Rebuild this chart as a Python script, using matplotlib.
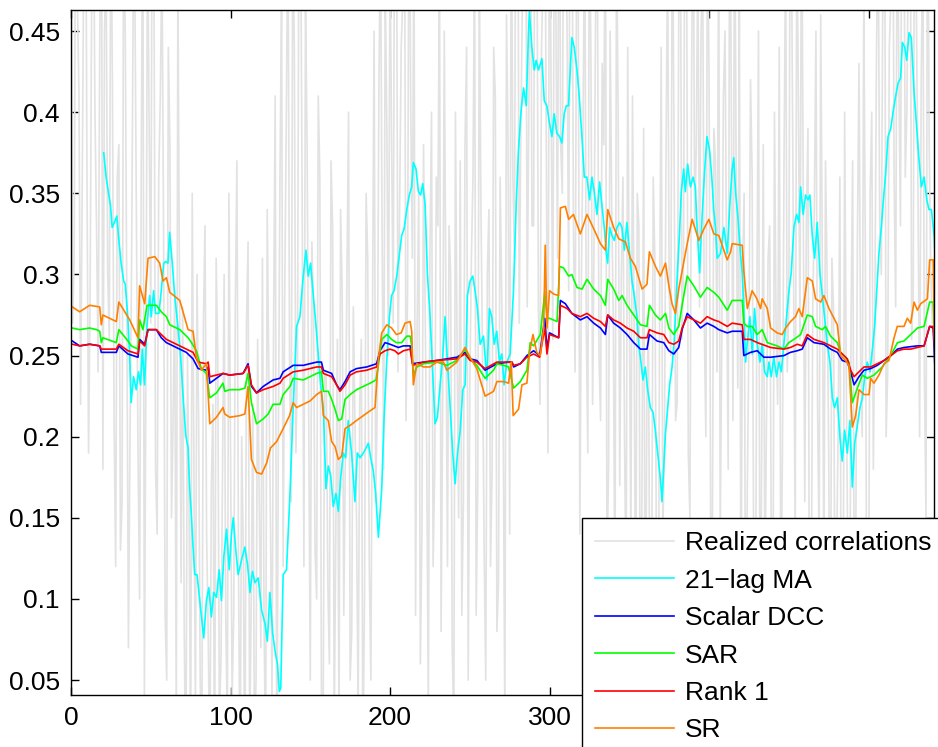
import matplotlib
matplotlib.use("Agg")
import matplotlib.pyplot as plt
from matplotlib.ticker import FormatStrFormatter
import numpy as np

plt.rcParams['font.family'] = ['Liberation Sans', 'DejaVu Sans']
plt.rcParams['font.size'] = 19

# realized correlations at even observations (x = 0, 2, ..., 540)
rc_even = [0.52, 0.31, 0.47, 0.22, 0.50, 0.36, 0.29, 0.55, 0.33, 0.44,
           0.18, 0.49, 0.26, 0.41, 0.12, 0.38, 0.16, 0.45, 0.07, 0.31,
           0.48, 0.19, 0.36, 0.04, 0.52, 0.27, 0.49, 0.14, 0.41, 0.33,
           0.05, 0.38, 0.21, 0.02, 0.30, 0.28, -0.02, 0.16, 0.35, 0.03,
           0.21, 0.00, 0.33, 0.08, 0.17, -0.03, 0.25, 0.06, 0.30, 0.02,
           0.19, 0.09, 0.37, -0.02, 0.13, 0.27, 0.01, 0.22, 0.05, 0.16,
           0.31, 0.00, 0.24, 0.04, 0.41, 0.20, 0.47, 0.29, 0.53, 0.16,
           0.44, 0.25, 0.51, 0.12, 0.38, 0.05, 0.28, 0.10, 0.36, 0.01,
           0.24, 0.06, 0.33, 0.14, 0.02, 0.29, 0.19, 0.40, 0.08, 0.21,
           0.03, 0.26, 0.10, 0.31, 0.05, 0.45, 0.22, 0.52, 0.18, 0.39,
           0.50, 0.27, 0.55, 0.34, 0.47, 0.21, 0.58, 0.31,
           0.09, 0.35, 0.14, 0.28, 0.03, 0.40, 0.18, 0.33, 0.08, 0.45,
           0.12, 0.30, 0.02, 0.26, 0.37, 0.16, 0.44, 0.23, 0.36, 0.09, 0.48, 0.25,
           0.05, 0.34, 0.18, 0.41, 0.11, 0.29, 0.02, 0.38,
           0.55, 0.31, 0.60, 0.39, 0.52, 0.28, 0.57,
           0.33, 0.54, 0.22, 0.49, 0.37, 0.58, 0.26, 0.46,
           0.60, 0.35, 0.52, 0.29, 0.56, 0.24, 0.47, 0.30, 0.53, 0.19, 0.42, 0.33,
           0.49, 0.21, 0.38, 0.12, 0.45, 0.27, 0.51, 0.17,
           0.36, 0.10, 0.29, 0.41, 0.06, 0.33, 0.18,
           0.02, 0.27, 0.09, 0.31, -0.01, 0.44, 0.19, 0.50, 0.25, 0.39,
           0.22, 0.53, 0.31, 0.47, 0.15, 0.56, 0.38, 0.28,
           0.49, 0.20, 0.42, 0.11, 0.37, 0.52, 0.26, 0.45, 0.18, 0.40, 0.55, 0.23,
           0.08, 0.35, 0.17, 0.42, 0.12, 0.29, 0.03, 0.38, 0.21, 0.33, 0.06, 0.27, 0.44,
           0.19, 0.50, 0.28, 0.45, 0.13, 0.41, 0.55,
           0.16, 0.39, 0.08, 0.34, 0.22, 0.46, 0.11, 0.30,
           0.02, 0.28, 0.13, 0.36, 0.05, 0.24, 0.00,
           0.37, 0.14, 0.43, 0.20, 0.31, 0.07, 0.40, 0.29,
           0.52, 0.30, 0.58, 0.24, 0.47, 0.36, 0.55,
           0.33, 0.57, 0.40, 0.60, 0.29, 0.46, 0.20, 0.51, 0.15, 0.38, 0.27]
# realized correlations at odd observations (x = 1, 3, ..., 539)
rc_odd = [0.27, 0.58, 0.41, 0.35, 0.60, 0.19, 0.48, 0.40, 0.24, 0.57,
          0.45, 0.30, 0.55, 0.21, 0.36, 0.13, 0.52, 0.28, 0.20, 0.47,
          0.33, 0.10, 0.55, 0.25, 0.39, 0.58, 0.18, 0.36, 0.50, 0.09,
          0.44, 0.15, 0.29, 0.48, 0.11, 0.08, 0.25, 0.00, 0.19, 0.30,
          0.05, 0.27, 0.14, -0.01, 0.22, 0.31, 0.03, 0.18, 0.09, 0.35,
          0.04, 0.28, 0.12, 0.20, -0.03, 0.32, 0.10, 0.01, 0.26, 0.07,
          0.09, 0.34, 0.15, 0.27, -0.02, 0.36, 0.12, 0.40, 0.25, 0.51,
          0.19, 0.56, 0.33, 0.47, 0.22, 0.32, 0.13, 0.41, 0.04, 0.24,
          0.11, 0.37, 0.02, 0.26, 0.34, 0.09, 0.30, 0.05, 0.28, 0.15,
          0.22, 0.00, 0.35, 0.12, 0.27, 0.16, 0.41, 0.33, 0.48, 0.25,
          0.38, 0.60, 0.24, 0.44, 0.57, 0.29, 0.40, 0.52,
          0.27, 0.06, 0.38, 0.19, 0.31, 0.12, 0.36, 0.50, 0.22, 0.29,
          0.33, 0.07, 0.40, 0.15, 0.09, 0.38, 0.05, 0.31, 0.50, 0.17, 0.34, 0.13,
          0.30, 0.12, 0.44, 0.08, 0.36, 0.20, 0.46, 0.14,
          0.36, 0.62, 0.27, 0.47, 0.58, 0.40, 0.33,
          0.60, 0.28, 0.44, 0.56, 0.19, 0.41, 0.53, 0.31,
          0.38, 0.59, 0.45, 0.62, 0.33, 0.51, 0.14, 0.39, 0.27, 0.56, 0.22, 0.48,
          0.25, 0.43, 0.55, 0.18, 0.34, 0.09, 0.40, 0.30,
          0.20, 0.44, 0.13, 0.27, 0.35, 0.02, 0.39,
          0.22, 0.05, 0.36, 0.13, 0.28, 0.14, 0.37, 0.29, 0.54, 0.21,
          0.46, 0.26, 0.59, 0.19, 0.41, 0.33, 0.50, 0.45,
          0.27, 0.53, 0.15, 0.39, 0.24, 0.14, 0.41, 0.30, 0.57, 0.21, 0.36, 0.47,
          0.30, 0.01, 0.26, 0.36, 0.05, 0.45, 0.19, 0.10, 0.31, 0.14, 0.40, 0.22, 0.09,
          0.37, 0.24, 0.58, 0.30, 0.52, 0.26, 0.36,
          0.33, 0.05, 0.28, 0.45, 0.13, 0.31, 0.37, 0.19,
          0.31, 0.08, 0.21, 0.00, 0.40, 0.12, 0.27,
          0.10, 0.32, 0.25, 0.47, 0.04, 0.35, 0.18, 0.44,
          0.33, 0.49, 0.20, 0.44, 0.60, 0.28, 0.42,
          0.59, 0.36, 0.51, 0.26, 0.62, 0.35, 0.42, 0.24, 0.57, 0.30]
rc_y = np.empty(len(rc_even) + len(rc_odd))
rc_y[0::2] = rc_even
rc_y[1::2] = rc_odd
rc_x = np.arange(len(rc_y))

ma_x = [20.5, 22, 23.7, 24.8, 25.8, 27.2, 28.7, 30, 31.4, 33, 34, 35.6, 36.7, 37.7, 39.2, 40.9,
        42.3, 43.6, 44.7, 46.1, 47.6, 49.3, 50.3, 51.8, 53, 55.1, 56.6, 58.1, 59.3, 60.8, 61.8,
        63.5, 65, 67, 68.6, 70.2, 71.9, 73.4, 74.4, 75.5, 76.5, 77.6, 79, 80.7, 82.2, 83.2,
        84.9, 86.4, 88, 89.5, 91.2, 92.9, 94.3, 95.8, 97.5, 99.2, 100.6, 101.7, 103.4, 104.8,
        106.9, 109, 110.7, 112.2, 113.8, 115.3, 117.4, 119.5, 121.6, 123.1, 124.7, 126.4,
        127.9, 129.4, 130.6, 131.5, 133, 135.1, 137.2, 139.3, 141.4, 143.5, 145.6, 147.3,
        148.7, 150.2, 151.9, 153.6, 155, 156.5, 158.2, 159.8, 161.3, 162.8, 164.4, 166.1,
        167.6, 169, 170.7, 172.2, 173.8, 175.9, 178, 179.5, 181.2, 183.3, 184.9, 186.4,
        187.9, 189.5, 191, 192.7, 194.8, 196.2, 197.9, 199.6, 201, 202.5, 204.2, 205.9,
        207.3, 208.8, 210.5, 212.1, 213.6, 214.6, 216.3, 217.8, 219.2, 220.5, 222, 223.4,
        225.1, 226.6, 228.2, 229.7, 231.4, 233, 234.5, 236, 237.7, 239.3, 240.8, 242.3,
        244, 245.6, 247.1, 248.5, 250.2, 251.9, 253.3, 254.8, 256.5, 258.6, 260.7, 262.3,
        263.8, 265.3, 266.9, 268.6, 270.1, 271.5, 273.2, 275.3, 277.4, 279.1, 280.5, 282,
        283.7, 285.4, 286.8, 287.4, 288.9, 290.4, 291.6, 293.1, 295.2, 296.7, 298.3, 300,
        301.5, 302.9, 304.6, 306.3, 307.7, 309.2, 310.5, 311.9, 313, 314, 315.5, 317.2,
        318.6, 320.3, 321.8, 323.4, 325.1, 326.6, 328, 329.7, 331.4, 332.8, 334.3, 335.6,
        336.4, 337.7, 339.1, 340.6, 342.3, 343.9, 345.4, 346.9, 348.5, 350.2, 351.7, 353.1,
        354.8, 355.9, 357.3, 358.6, 360, 361.5, 363.2, 364.9, 366.3, 367.8, 369.5, 370.5,
        371.5, 372.6, 374.1, 375.3, 376.8, 378.2, 379.9, 381.4, 382.6, 384.1, 385.1, 386.6,
        388.3, 390, 391.4, 392.5, 394.1, 395.6, 397.1, 398.7, 400.4, 401.9, 402.9, 404,
        405.1, 407.2, 409.3, 411.4, 413, 414.5, 415.5, 416.6, 418.1, 419.7, 420.8, 421.8,
        422.9, 423.9, 425.6, 427.1, 428.5, 430.2, 431.9, 433.3, 434.8, 436.5, 437.5, 439,
        440.6, 442.3, 443.8, 445.3, 446.9, 448.6, 450.1, 451.5, 453.2, 454.9, 456.3, 457.4,
        459, 460.5, 462, 463.2, 464.7, 466.2, 467.8, 469.5, 471, 472.4, 474.1, 475.8, 477.3,
        478.7, 480.4, 482.1, 483.5, 485, 486.7, 488.3, 489.8, 491.3, 493, 494.6, 496.1,
        497.6, 499.2, 500.9, 502.4, 503.8, 505.5, 506.5, 508, 509.3, 510.7, 512.2, 513.9,
        515.5, 517, 518.5, 520.1, 521.2, 522.7, 523.9, 525.4, 526.8, 528.5, 530.2, 531.6,
        533.1, 534.8, 536.5, 537.9, 539.4, 541.1, 542]
ma_y = [0.375, 0.36, 0.349, 0.342, 0.329, 0.332, 0.336, 0.321, 0.307, 0.296, 0.294, 0.274,
        0.251, 0.221, 0.237, 0.229, 0.24, 0.232, 0.254, 0.232, 0.268, 0.287, 0.274, 0.29,
        0.276, 0.276, 0.29, 0.307, 0.308, 0.307, 0.326, 0.307, 0.287, 0.268, 0.251, 0.226,
        0.201, 0.193, 0.168, 0.151, 0.132, 0.115, 0.115, 0.099, 0.085, 0.076, 0.099, 0.107,
        0.089, 0.104, 0.101, 0.118, 0.099, 0.126, 0.143, 0.118, 0.14, 0.15, 0.129, 0.115,
        0.124, 0.132, 0.121, 0.104, 0.117, 0.11, 0.113, 0.093, 0.085, 0.074, 0.104, 0.079,
        0.068, 0.06, 0.043, 0.045, 0.115, 0.118, 0.163, 0.218, 0.268, 0.274, 0.299, 0.315,
        0.299, 0.307, 0.287, 0.268, 0.251, 0.232, 0.218, 0.168, 0.182, 0.176, 0.157, 0.165,
        0.154, 0.174, 0.19, 0.187, 0.21, 0.19, 0.16, 0.19, 0.187, 0.19, 0.193, 0.196,
        0.187, 0.179, 0.165, 0.138, 0.168, 0.21, 0.246, 0.274, 0.287, 0.29, 0.299, 0.313,
        0.324, 0.328, 0.34, 0.349, 0.354, 0.369, 0.365, 0.351, 0.349, 0.356, 0.343, 0.301,
        0.274, 0.243, 0.208, 0.212, 0.232, 0.249, 0.274, 0.246, 0.218, 0.19, 0.171, 0.19,
        0.204, 0.229, 0.232, 0.287, 0.296, 0.299, 0.29, 0.279, 0.257, 0.262, 0.235, 0.279,
        0.274, 0.257, 0.265, 0.246, 0.251, 0.232, 0.246, 0.251, 0.29, 0.343, 0.376, 0.399,
        0.415, 0.404, 0.449, 0.462, 0.44, 0.426, 0.432, 0.426, 0.433, 0.407, 0.404, 0.393,
        0.385, 0.399, 0.387, 0.385, 0.381, 0.399, 0.404, 0.404, 0.426, 0.446, 0.44, 0.426,
        0.41, 0.385, 0.36, 0.36, 0.346, 0.36, 0.351, 0.337, 0.357, 0.343, 0.329, 0.313,
        0.307, 0.329, 0.324, 0.321, 0.329, 0.332, 0.329, 0.315, 0.332, 0.313, 0.296, 0.287,
        0.274, 0.257, 0.246, 0.235, 0.243, 0.229, 0.218, 0.215, 0.204, 0.19, 0.174, 0.16,
        0.179, 0.201, 0.218, 0.232, 0.243, 0.26, 0.296, 0.324, 0.351, 0.365, 0.351, 0.368,
        0.354, 0.36, 0.354, 0.329, 0.301, 0.335, 0.362, 0.385, 0.376, 0.357, 0.34, 0.329,
        0.31, 0.313, 0.329, 0.313, 0.343, 0.365, 0.372, 0.351, 0.335, 0.313, 0.301, 0.279,
        0.246, 0.257, 0.274, 0.251, 0.279, 0.257, 0.246, 0.257, 0.24, 0.237, 0.246, 0.237,
        0.249, 0.237, 0.246, 0.24, 0.257, 0.274, 0.29, 0.301, 0.329, 0.337, 0.332, 0.354,
        0.337, 0.349, 0.346, 0.349, 0.324, 0.31, 0.332, 0.301, 0.287, 0.274, 0.257, 0.246,
        0.224, 0.218, 0.224, 0.199, 0.185, 0.204, 0.19, 0.21, 0.169, 0.196, 0.207, 0.218,
        0.224, 0.237, 0.246, 0.24, 0.254, 0.268, 0.296, 0.313, 0.329, 0.346, 0.362, 0.385,
        0.39, 0.401, 0.41, 0.418, 0.421, 0.443, 0.44, 0.432, 0.449, 0.446, 0.413, 0.39,
        0.371, 0.354, 0.36, 0.346, 0.34, 0.34, 0.324, 0.305]

dcc_x = [0.8, 5.4, 11.7, 18, 19, 28.4, 30, 35.7, 42, 43, 46.2, 48.3, 53.5, 56.6, 59.8, 68.2,
         72.3, 76.5, 79.7, 84.9, 86, 87, 91.2, 95.3, 99.5, 107.9, 111, 113.1, 116.3, 120.5,
         126.7, 131, 133, 139.3, 145.6, 154, 157, 158.2, 163.4, 166.5, 168.6, 171.8, 175,
         179, 185.4, 191.6, 193.7, 196.9, 200, 205.2, 208.4, 212.6, 214.2, 221, 229.3,
         241.9, 247, 250.2, 254.4, 259.6, 267, 274.3, 276.4, 277.5, 281.7, 285.8, 290,
         293.8, 297, 298.4, 300, 305.7, 306.8, 309.9, 314, 319.3, 323.5, 327.7, 331.9, 335,
         336.5, 340.2, 344.4, 348.6, 352.8, 357, 361.1, 362.6, 367.4, 371.6, 374.8, 377.9,
         381, 383.1, 386.3, 390.4, 394.6, 398.8, 403, 406.1, 411.4, 414.5, 420.8, 421.8,
         426, 430.2, 434.4, 438.6, 446.9, 451, 455.3, 458.4, 461.6, 465.8, 472, 476.2,
         480.4, 483.5, 486.7, 488.8, 490.9, 494, 497.1, 501.3, 505.5, 509.7, 513.9, 518.1,
         522.2, 530.6, 534.8, 538.3, 540.5, 541.5]
dcc_y = [0.259, 0.256, 0.257, 0.256, 0.252, 0.252, 0.256, 0.251, 0.249, 0.26, 0.257, 0.266,
         0.266, 0.261, 0.258, 0.254, 0.252, 0.248, 0.242, 0.241, 0.243, 0.233, 0.236, 0.239,
         0.238, 0.239, 0.245, 0.231, 0.227, 0.231, 0.235, 0.236, 0.24, 0.244, 0.244, 0.246,
         0.246, 0.241, 0.239, 0.232, 0.229, 0.234, 0.24, 0.242, 0.243, 0.245, 0.253, 0.258,
         0.257, 0.255, 0.256, 0.256, 0.245, 0.246, 0.247, 0.249, 0.252, 0.248, 0.247, 0.241,
         0.245, 0.246, 0.246, 0.243, 0.245, 0.25, 0.253, 0.25, 0.273, 0.254, 0.264, 0.261,
         0.284, 0.282, 0.276, 0.272, 0.274, 0.27, 0.267, 0.263, 0.275, 0.27, 0.267, 0.263,
         0.258, 0.254, 0.254, 0.263, 0.259, 0.258, 0.253, 0.251, 0.255, 0.266, 0.276, 0.272,
         0.267, 0.27, 0.268, 0.266, 0.264, 0.265, 0.265, 0.25, 0.252, 0.253, 0.249, 0.249,
         0.25, 0.252, 0.253, 0.254, 0.261, 0.258, 0.257, 0.254, 0.252, 0.247, 0.246, 0.24,
         0.232, 0.237, 0.241, 0.242, 0.244, 0.247, 0.25, 0.254, 0.255, 0.256, 0.256, 0.268,
         0.267, 0.245]

sar_x = [0.8, 5.4, 11.7, 16, 18, 19, 20, 28.4, 30, 35.7, 37.8, 42, 43, 45.1, 47.7, 53.5, 56.6,
         59.8, 61.9, 68.2, 73.4, 75.5, 78.6, 81.7, 84.9, 87, 91.2, 95.3, 96.4, 99.5, 105.8,
         109, 111, 113.1, 116.3, 120.5, 123.6, 126.7, 131, 133, 137.3, 139.3, 145.6, 149.8,
         154, 157, 158.2, 161.3, 163.4, 165.5, 167.6, 169.7, 171.8, 175, 179, 183.3, 187.5,
         191.2, 192.7, 194.8, 198, 201, 204, 207.3, 210.5, 212.6, 213.6, 214.6, 216.8, 221,
         229.3, 235.6, 241.9, 247, 250.2, 254.4, 259.6, 264.9, 267, 271.2, 274.3, 277.5,
         281.7, 285.8, 287.9, 290, 294.2, 297, 298.4, 300, 304.7, 306.3, 308.8, 312, 314,
         317.2, 320.4, 323.5, 327.7, 331.9, 335, 336.5, 340.2, 343.4, 345.5, 348.6, 352.8,
         357, 361.1, 362.6, 366.4, 369.5, 372.7, 374.8, 377.9, 381, 383.1, 386.3, 390.4,
         394.6, 398.8, 403, 406.1, 411.4, 414.5, 420.8, 421.8, 424, 427, 430.2, 433.3, 436.5,
         442.7, 446.9, 450, 453.2, 457.4, 461.6, 464.7, 466.8, 471, 473, 476.2, 480.4, 482.5,
         485.6, 487.7, 489.8, 493, 496.1, 499.2, 503.4, 508.6, 513.9, 518.1, 522.2, 526.4,
         530.6, 534.8, 538.3, 540.5, 541.5]
sar_y = [0.267, 0.266, 0.267, 0.266, 0.265, 0.258, 0.261, 0.258, 0.266, 0.259, 0.256, 0.254,
         0.272, 0.266, 0.281, 0.281, 0.277, 0.274, 0.269, 0.266, 0.261, 0.258, 0.253, 0.242,
         0.239, 0.224, 0.227, 0.233, 0.228, 0.229, 0.229, 0.23, 0.239, 0.221, 0.208, 0.211,
         0.214, 0.22, 0.22, 0.226, 0.231, 0.236, 0.235, 0.237, 0.239, 0.24, 0.228, 0.228,
         0.223, 0.217, 0.21, 0.211, 0.223, 0.226, 0.229, 0.231, 0.233, 0.235, 0.244, 0.26,
         0.263, 0.26, 0.258, 0.258, 0.262, 0.262, 0.256, 0.238, 0.243, 0.245, 0.246, 0.244,
         0.247, 0.254, 0.248, 0.244, 0.236, 0.241, 0.245, 0.244, 0.243, 0.23, 0.234, 0.241,
         0.258, 0.256, 0.263, 0.289, 0.273, 0.273, 0.271, 0.305, 0.304, 0.299, 0.3, 0.292,
         0.291, 0.297, 0.291, 0.287, 0.281, 0.297, 0.291, 0.284, 0.287, 0.281, 0.275, 0.269,
         0.268, 0.281, 0.275, 0.272, 0.276, 0.267, 0.263, 0.268, 0.281, 0.299, 0.293, 0.286,
         0.292, 0.289, 0.286, 0.278, 0.284, 0.284, 0.27, 0.268, 0.268, 0.263, 0.266, 0.258,
         0.256, 0.254, 0.258, 0.26, 0.263, 0.275, 0.274, 0.268, 0.266, 0.268, 0.262, 0.258,
         0.252, 0.249, 0.246, 0.221, 0.23, 0.238, 0.236, 0.238, 0.243, 0.25, 0.258, 0.259,
         0.263, 0.267, 0.268, 0.283, 0.283, 0.26]

rank1_x = [0.8, 5.4, 11.7, 18, 19, 28.4, 30, 35.7, 42, 43, 46.2, 48.3, 53.5, 56.6, 59.8, 68.2,
           72.3, 76.5, 79.7, 84.9, 86, 87, 91.2, 95.3, 99.5, 107.9, 111, 113.1, 116.3, 120.5,
           126.7, 131, 133, 139.3, 145.6, 154, 157, 158.2, 163.4, 166.5, 168.6, 171.8, 175,
           179, 185.4, 191.6, 193.7, 196.9, 200, 203, 205.2, 208.4, 212.6, 214.2, 221, 229.3,
           241.9, 247, 250.2, 254.4, 259.6, 267, 274.3, 276.4, 277.5, 281.7, 285.8, 290,
           293.8, 297, 298.4, 300, 305.7, 306.8, 311, 314, 319.3, 323.5, 327.7, 331.9, 335,
           336.5, 340.2, 344.4, 348.6, 352.8, 357, 361.1, 362.6, 367.4, 371.6, 374.8, 377.9,
           381, 383.1, 386.3, 390.4, 394.6, 398.8, 403, 406.1, 411.4, 414.5, 420.8, 421.8,
           426, 430.2, 438.6, 446.9, 451, 455.3, 458.4, 461.6, 465.8, 472, 476.2, 480.4,
           483.5, 486.7, 488.8, 490.9, 494, 497.1, 501.3, 505.5, 509.7, 513.9, 518.1, 522.2,
           526.4, 530.6, 534.8, 538.3, 540.5, 541.5]
rank1_y = [0.257, 0.256, 0.257, 0.256, 0.254, 0.254, 0.257, 0.253, 0.251, 0.259, 0.256, 0.266,
           0.266, 0.263, 0.26, 0.256, 0.254, 0.252, 0.246, 0.245, 0.246, 0.237, 0.238, 0.239,
           0.238, 0.239, 0.244, 0.232, 0.227, 0.229, 0.231, 0.233, 0.236, 0.24, 0.241, 0.243,
           0.243, 0.239, 0.237, 0.232, 0.228, 0.232, 0.238, 0.24, 0.241, 0.243, 0.251, 0.253,
           0.254, 0.253, 0.251, 0.253, 0.254, 0.244, 0.246, 0.247, 0.248, 0.251, 0.247, 0.246,
           0.242, 0.246, 0.246, 0.246, 0.244, 0.245, 0.249, 0.251, 0.249, 0.267, 0.251, 0.263,
           0.261, 0.281, 0.279, 0.276, 0.274, 0.276, 0.273, 0.271, 0.268, 0.275, 0.272, 0.27,
           0.267, 0.265, 0.261, 0.261, 0.266, 0.264, 0.263, 0.258, 0.257, 0.259, 0.267, 0.274,
           0.272, 0.27, 0.274, 0.272, 0.271, 0.268, 0.27, 0.269, 0.26, 0.26, 0.258, 0.255,
           0.254, 0.255, 0.257, 0.256, 0.263, 0.26, 0.258, 0.256, 0.254, 0.251, 0.248, 0.241,
           0.237, 0.24, 0.243, 0.243, 0.245, 0.247, 0.25, 0.253, 0.254, 0.254, 0.255, 0.256,
           0.268, 0.268, 0.256]

sr_x = [0.8, 5.4, 11.7, 18, 19, 20, 28.4, 30, 36.8, 42, 43, 46.2, 48.3, 52.5, 55.6, 57.7, 59.8,
        61.9, 68.2, 73.4, 76.5, 78.6, 81.7, 84.9, 87, 91.2, 95.3, 96.4, 99.5, 105.8, 109, 111,
        113.1, 116.3, 119.5, 122.7, 125, 128.9, 133, 137, 139.3, 141.4, 145.6, 149.8, 154,
        157, 158.2, 161.3, 163.4, 165.5, 167.6, 169.7, 171.8, 175, 179, 183.3, 187.5, 190.6,
        192.7, 194.8, 198, 201, 204, 207, 209.4, 212.6, 213.6, 214.6, 216.8, 221, 225,
        229.3, 233.5, 235.6, 241.9, 247, 250.2, 254.4, 259.6, 264.9, 267, 271.2, 274.3,
        276, 277.2, 280.6, 282.7, 285.8, 287.5, 289.6, 292, 294.2, 296.3, 297.3, 298.4, 300,
        302.5, 305.7, 306.8, 309.9, 312, 315, 319.3, 323.5, 328.7, 331.9, 335, 336.5, 340.2,
        343.4, 347.6, 350.7, 353.8, 358, 361.1, 362.6, 366.4, 369.5, 372.7, 374.8, 376.8,
        378.9, 381, 383.1, 386.3, 389.4, 393.6, 396.7, 399.9, 403, 406.1, 411.4, 413.5,
        414.5, 420.8, 421.8, 424, 427, 430, 432.3, 433.3, 436.5, 438.6, 442.7, 445.9, 448,
        451.1, 454.2, 456.3, 458.4, 461.6, 464.7, 466.8, 470, 472, 475.2, 478.3, 480.4,
        482.5, 485.6, 487.7, 489.8, 491.9, 494, 497.1, 500.3, 501.3, 503.4, 506.5, 509.7,
        512.8, 516, 518, 522.2, 524.3, 526.4, 528.5, 530.6, 532.7, 536.9, 538.3, 540.5,
        541.5]
sr_y = [0.28, 0.277, 0.281, 0.28, 0.269, 0.275, 0.271, 0.283, 0.272, 0.261, 0.293, 0.282,
        0.31, 0.311, 0.307, 0.296, 0.298, 0.289, 0.284, 0.266, 0.265, 0.249, 0.241, 0.245,
        0.208, 0.212, 0.218, 0.214, 0.212, 0.213, 0.214, 0.231, 0.186, 0.178, 0.177, 0.184,
        0.193, 0.197, 0.205, 0.213, 0.221, 0.218, 0.22, 0.222, 0.226, 0.228, 0.213, 0.21,
        0.197, 0.194, 0.186, 0.188, 0.205, 0.207, 0.21, 0.213, 0.216, 0.218, 0.248, 0.264,
        0.269, 0.267, 0.263, 0.264, 0.27, 0.271, 0.265, 0.232, 0.245, 0.243, 0.243, 0.246,
        0.246, 0.241, 0.246, 0.255, 0.249, 0.242, 0.225, 0.228, 0.234, 0.234, 0.233, 0.246,
        0.213, 0.217, 0.232, 0.233, 0.252, 0.263, 0.252, 0.25, 0.267, 0.318, 0.267, 0.29,
        0.288, 0.287, 0.341, 0.342, 0.334, 0.337, 0.325, 0.337, 0.326, 0.319, 0.315, 0.34,
        0.329, 0.322, 0.32, 0.31, 0.305, 0.291, 0.294, 0.314, 0.305, 0.299, 0.307, 0.293,
        0.282, 0.276, 0.291, 0.302, 0.319, 0.334, 0.321, 0.328, 0.334, 0.325, 0.324, 0.309,
        0.314, 0.319, 0.318, 0.302, 0.279, 0.29, 0.285, 0.279, 0.285, 0.279, 0.267, 0.264,
        0.263, 0.267, 0.271, 0.274, 0.279, 0.274, 0.298, 0.296, 0.285, 0.283, 0.287, 0.279,
        0.273, 0.269, 0.25, 0.247, 0.244, 0.206, 0.213, 0.229, 0.226, 0.226, 0.236, 0.233,
        0.238, 0.245, 0.247, 0.261, 0.268, 0.268, 0.273, 0.27, 0.283, 0.278, 0.282, 0.285,
        0.309, 0.309, 0.25]

x_ticks = [0, 100, 200, 300, 400, 500]
x_ticklabels = ['0', '100', '200', '300', '', '']  # 400 and 500 sit under the legend

series = [
    (rc_x, rc_y, '#e2e2e2', 'Realized correlations'),
    (ma_x, ma_y, '#00ffff', '21\u2212lag MA'),
    (dcc_x, dcc_y, '#0000ff', 'Scalar DCC'),
    (sar_x, sar_y, '#00ff00', 'SAR'),
    (rank1_x, rank1_y, '#ff0000', 'Rank 1'),
    (sr_x, sr_y, '#ff8000', 'SR'),
]

fig = plt.figure(figsize=(9.38, 7.47), dpi=100)
ax = fig.add_axes([0.0757, 0.07, 0.92, 0.9166])

for xs, ys, c, lab in series:
    ax.plot(xs, ys, color=c, lw=1.2, label=lab)

ax.set_xlim(0, 541)
ax.set_ylim(0.041, 0.463)
ax.set_xticks(x_ticks)
ax.set_xticklabels(x_ticklabels)
ax.set_yticks(np.arange(0.05, 0.451, 0.05))
ax.yaxis.set_major_formatter(FormatStrFormatter('%g'))
ax.tick_params(direction='in', top=True, right=True, length=6, width=1,
               labelsize=19, pad=8)
for s in ax.spines.values():
    s.set_linewidth(1.0)

leg = fig.legend(loc='upper left', bbox_to_anchor=(582 / 938, 1 - 518 / 747),
                 bbox_transform=fig.transFigure, borderaxespad=0, fontsize=19,
                 fancybox=False, framealpha=1, edgecolor='black',
                 handlelength=3.0, handletextpad=0.4, labelspacing=0.51,
                 borderpad=0.5)
leg.get_frame().set_linewidth(1.0)

fig.savefig('out.png', dpi=100)
